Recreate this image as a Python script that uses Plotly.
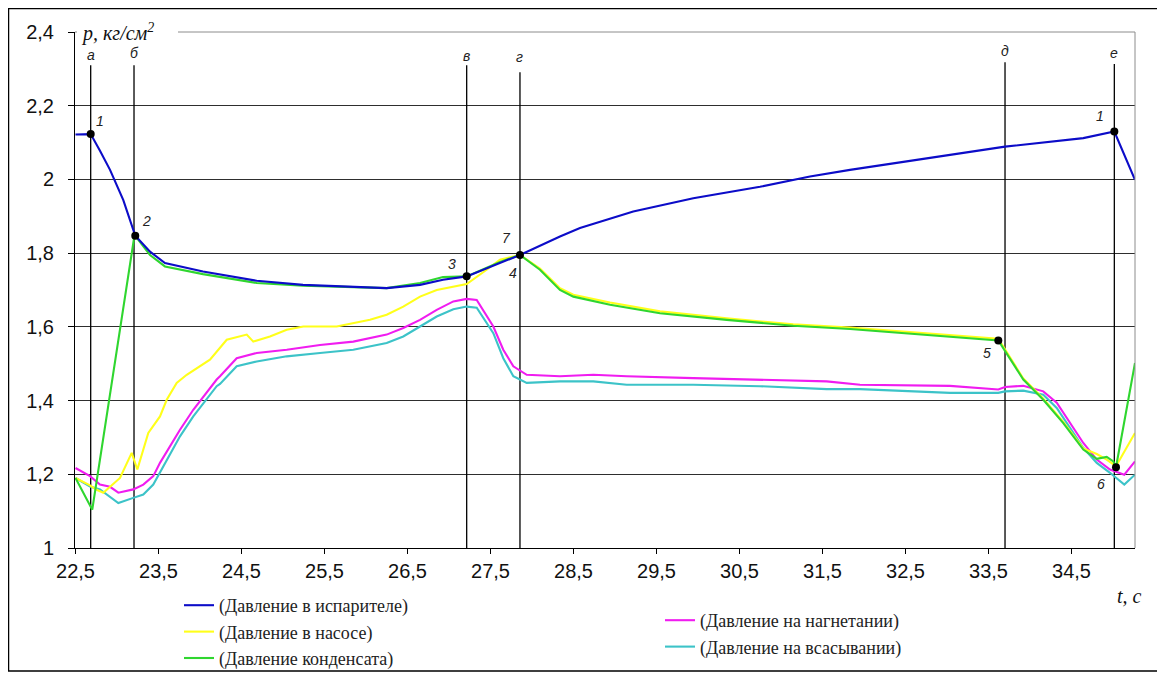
import plotly.graph_objects as go

# ---------------- data ----------------
t_evap = [22.5, 22.683, 22.795, 22.916, 23.076, 23.22, 23.398, 23.578, 24.036, 24.683,
          25.241, 25.843, 26.249, 26.651, 26.928, 27.213, 27.614, 27.855, 28.337, 28.578,
          29.22, 29.943, 30.747, 31.349, 31.831, 33.036, 33.699, 34.642, 35.016, 35.265]
p_evap = [2.122, 2.123, 2.078, 2.026, 1.944, 1.847, 1.804, 1.773, 1.75, 1.725,
          1.714, 1.709, 1.705, 1.714, 1.728, 1.737, 1.773, 1.795, 1.845, 1.868,
          1.913, 1.949, 1.98, 2.008, 2.026, 2.066, 2.089, 2.112, 2.13, 1.999]

t_pump = [22.5, 22.675, 22.755, 22.835, 23.036, 23.177, 23.245, 23.377, 23.518, 23.599,
          23.719, 23.84, 24.12, 24.322, 24.563, 24.642, 24.843, 25.045, 25.245, 25.647,
          26.048, 26.249, 26.449, 26.651, 26.852, 27.213, 27.454, 27.614, 27.855, 28.096,
          28.337, 28.498, 28.94, 29.542, 30.346, 31.148, 31.831, 32.635, 33.618, 33.919,
          34.16, 34.401, 34.642, 34.804, 34.924, 35.036, 35.265]
p_pump = [1.19, 1.17, 1.158, 1.15, 1.19, 1.258, 1.213, 1.312, 1.357, 1.402,
          1.448, 1.47, 1.511, 1.565, 1.579, 1.56, 1.574, 1.592, 1.601, 1.601,
          1.619, 1.633, 1.655, 1.682, 1.70, 1.716, 1.755, 1.782, 1.795, 1.758,
          1.705, 1.687, 1.666, 1.642, 1.623, 1.607, 1.598, 1.584, 1.568, 1.46,
          1.405, 1.342, 1.27, 1.255, 1.24, 1.222, 1.312]

t_cond = [22.5, 22.702, 23.205, 23.22, 23.398, 23.578, 24.036, 24.683, 25.241, 25.843,
          26.249, 26.651, 26.928, 27.213, 27.614, 27.855, 28.096, 28.337, 28.498, 28.94,
          29.542, 30.346, 31.148, 31.831, 32.635, 33.618, 33.919, 34.16, 34.401, 34.642,
          34.804, 34.924, 35.004, 35.036, 35.265]
p_cond = [1.19, 1.104, 1.84, 1.847, 1.795, 1.764, 1.743, 1.719, 1.712, 1.709,
          1.705, 1.719, 1.735, 1.737, 1.776, 1.795, 1.755, 1.70, 1.682, 1.66,
          1.637, 1.619, 1.603, 1.594, 1.58, 1.563, 1.457, 1.402, 1.339, 1.267,
          1.242, 1.247, 1.235, 1.219, 1.502]

t_ms = [22.5, 22.675, 22.795, 22.916, 23.016, 23.196, 23.317, 23.437, 23.518, 23.639,
        23.759, 23.919, 24.04, 24.201, 24.241, 24.442, 24.683, 25.045, 25.446, 25.847,
        26.249, 26.449, 26.651, 26.852, 27.052, 27.213, 27.334, 27.534, 27.654, 27.775,
        27.936, 28.337, 28.739, 29.141, 29.943, 30.747, 31.551, 31.952, 33.036, 33.618,
        33.699, 33.919, 34.16, 34.322, 34.482, 34.642, 34.804, 34.964, 35.136, 35.265]
p_disch = [1.217, 1.195, 1.172, 1.166, 1.15, 1.159, 1.172, 1.195, 1.231, 1.276,
           1.321, 1.375, 1.411, 1.457, 1.466, 1.515, 1.529, 1.538, 1.551, 1.56,
           1.579, 1.597, 1.619, 1.646, 1.669, 1.676, 1.673, 1.601, 1.538, 1.493,
           1.47, 1.466, 1.47, 1.466, 1.461, 1.457, 1.452, 1.443, 1.44, 1.43,
           1.437, 1.44, 1.425, 1.394, 1.339, 1.285, 1.24, 1.213, 1.199, 1.235]
p_suct = [1.19, 1.167, 1.159, 1.14, 1.122, 1.136, 1.145, 1.172, 1.204, 1.253,
          1.303, 1.357, 1.393, 1.439, 1.445, 1.493, 1.506, 1.52, 1.529, 1.538,
          1.556, 1.574, 1.601, 1.628, 1.648, 1.655, 1.652, 1.583, 1.515, 1.466,
          1.448, 1.452, 1.452, 1.443, 1.443, 1.439, 1.431, 1.431, 1.421, 1.421,
          1.425, 1.427, 1.416, 1.38, 1.326, 1.272, 1.231, 1.204, 1.172, 1.199]

series_names = ["(Давление в испарителе)", "(Давление в насосе)", "(Давление конденсата)",
                "(Давление на нагнетании)", "(Давление на всасывании)"]

x_ticks = [22.5, 23.5, 24.5, 25.5, 26.5, 27.5, 28.5, 29.5, 30.5, 31.5, 32.5, 33.5, 34.5]
x_tick_labels = ["22,5", "23,5", "24,5", "25,5", "26,5", "27,5", "28,5", "29,5",
                 "30,5", "31,5", "32,5", "33,5", "34,5"]
y_ticks = [1, 1.2, 1.4, 1.6, 1.8, 2.0, 2.2, 2.4]
y_tick_labels = ["1", "1,2", "1,4", "1,6", "1,8", "2", "2,2", "2,4"]

phase_labels = ["а", "б", "в", "г", "д", "е"]
phase_t = [22.683, 23.205, 27.213, 27.855, 33.699, 35.016]

point_t = [22.683, 23.22, 27.213, 27.855, 33.618, 35.036, 35.016]
point_p = [2.123, 1.847, 1.737, 1.795, 1.563, 1.219, 2.13]
point_labels = ["1", "2", "3", "7", "4", "5", "6", "1"]
point_label_of = [0, 1, 2, 3, 3, 4, 5, 6]

# ---------------- styling / layout ----------------
# the page body has an 8px margin, so the figure is drawn 8px right/down
OFF = 8
W, H = 1165, 677
ML, MT = 67, 24
PW, PH = 1060, 516
MR, MB = W - ML - PW, H - MT - PH


def px(xs):   # screen x -> paper x
    return (xs - OFF - ML) / PW


def py(ys):   # screen y -> paper y
    return (H - MB - (ys - OFF)) / PH


colors = {"evap": "#0c0cc8", "pump": "#ffff1a", "cond": "#2fd62f",
          "disch": "#f01cf0", "suct": "#3cc3c8"}

phase_line_top = [2.31, 2.31, 2.31, 2.291, 2.318, 2.313]
phase_label_y = [2.337, 2.343, 2.335, 2.332, 2.348, 2.343]
label_shift = [(9, 13), (11, 15), (-15, 12), (-13, 17), (-7, -18), (-11, -13), (-15, -17), (-14, 16)]

fig = go.Figure()

trace_specs = [
    (t_ms, p_disch, "disch", 3, "legend2", 4),
    (t_ms, p_suct, "suct", 4, "legend2", 5),
    (t_pump, p_pump, "pump", 1, "legend", 2),
    (t_cond, p_cond, "cond", 2, "legend", 3),
    (t_evap, p_evap, "evap", 0, "legend", 1),
]
for tx, py_, key, ni, leg, rank in trace_specs:
    fig.add_trace(go.Scatter(x=tx, y=py_, mode="lines", name=series_names[ni],
                             line=dict(color=colors[key], width=2.1),
                             legend=leg, legendrank=rank, legendgroup=key))

fig.add_trace(go.Scatter(x=point_t, y=point_p, mode="markers",
                         marker=dict(color="black", size=8), showlegend=False,
                         hoverinfo="skip"))

shapes = []
for t, top in zip(phase_t, phase_line_top):
    shapes.append(dict(type="line", xref="x", yref="y", x0=t, x1=t, y0=1, y1=top,
                       line=dict(color="black", width=1.3), layer="between"))
# plot area border (top & right, gray)
shapes.append(dict(type="line", xref="paper", yref="paper", x0=0, x1=1, y0=1, y1=1,
                   line=dict(color="#8c8c8c", width=1), layer="above"))
shapes.append(dict(type="line", xref="paper", yref="paper", x0=1, x1=1, y0=0, y1=1,
                   line=dict(color="#8c8c8c", width=1), layer="above"))
# white patch behind the y-axis title
shapes.append(dict(type="rect", xref="paper", yref="paper", x0=px(77), x1=px(178),
                   y0=py(44), y1=py(20), fillcolor="white", line=dict(width=0), layer="above"))
# outer frame
shapes.append(dict(type="rect", xref="paper", yref="paper", x0=px(8.5), x1=px(1159),
                   y0=py(671), y1=py(8.5), fillcolor="rgba(0,0,0,0)",
                   line=dict(color="black", width=1.5), layer="above"))

annotations = []
annotations.append(dict(xref="paper", yref="paper", x=px(79), y=py(32), xanchor="left",
                        yanchor="middle", showarrow=False,
                        text="<i>p, кг/см<sup>2</sup></i>",
                        font=dict(family="Liberation Serif", size=20, color="#111")))
annotations.append(dict(xref="paper", yref="paper", x=px(1115), y=py(596), xanchor="left",
                        yanchor="middle", showarrow=False, text="<i>t, с</i>",
                        font=dict(family="Liberation Serif", size=20, color="#111")))
for lab, t, yl in zip(phase_labels, phase_t, phase_label_y):
    annotations.append(dict(xref="x", yref="y", x=t, y=yl, showarrow=False,
                            text="<i>" + lab + "</i>",
                            font=dict(family="Liberation Sans", size=14, color="#222")))
for lab, idx, (dx, dy) in zip(point_labels, point_label_of, label_shift):
    annotations.append(dict(xref="x", yref="y", x=point_t[idx], y=point_p[idx],
                            xshift=dx, yshift=dy, showarrow=False,
                            text="<i>" + lab + "</i>",
                            font=dict(family="Liberation Sans", size=14, color="#222")))

legend_font = dict(family="Liberation Serif", size=18, color="#222")

fig.update_layout(
    width=W, height=H,
    margin=dict(l=ML, r=MR, t=MT, b=MB, autoexpand=False),
    paper_bgcolor="white", plot_bgcolor="white",
    showlegend=True,
    xaxis=dict(range=[22.494, 35.265], tickvals=x_ticks, ticktext=x_tick_labels,
               showline=True, linecolor="black", linewidth=1, ticks="outside",
               ticklen=5, tickcolor="black", showgrid=False, zeroline=False,
               automargin=False,
               tickfont=dict(family="Liberation Sans", size=20, color="#111"),
               ticklabelstandoff=0),
    yaxis=dict(range=[1, 2.4], tickvals=y_ticks, ticktext=y_tick_labels,
               showline=True, linecolor="black", linewidth=1, ticks="outside",
               ticklen=6, tickcolor="black", showgrid=True, gridcolor="#2e2e2e",
               gridwidth=1, zeroline=False, automargin=False,
               tickfont=dict(family="Liberation Sans", size=20, color="#111"),
               ticklabelstandoff=10),
    legend=dict(x=px(179), y=py(587), xanchor="left", yanchor="top", font=legend_font,
                bgcolor="rgba(0,0,0,0)", traceorder="normal"),
    legend2=dict(x=px(660), y=py(602), xanchor="left", yanchor="top", font=legend_font,
                 bgcolor="rgba(0,0,0,0)", traceorder="normal"),
    shapes=shapes,
    annotations=annotations,
)

fig.write_html("out.html")
